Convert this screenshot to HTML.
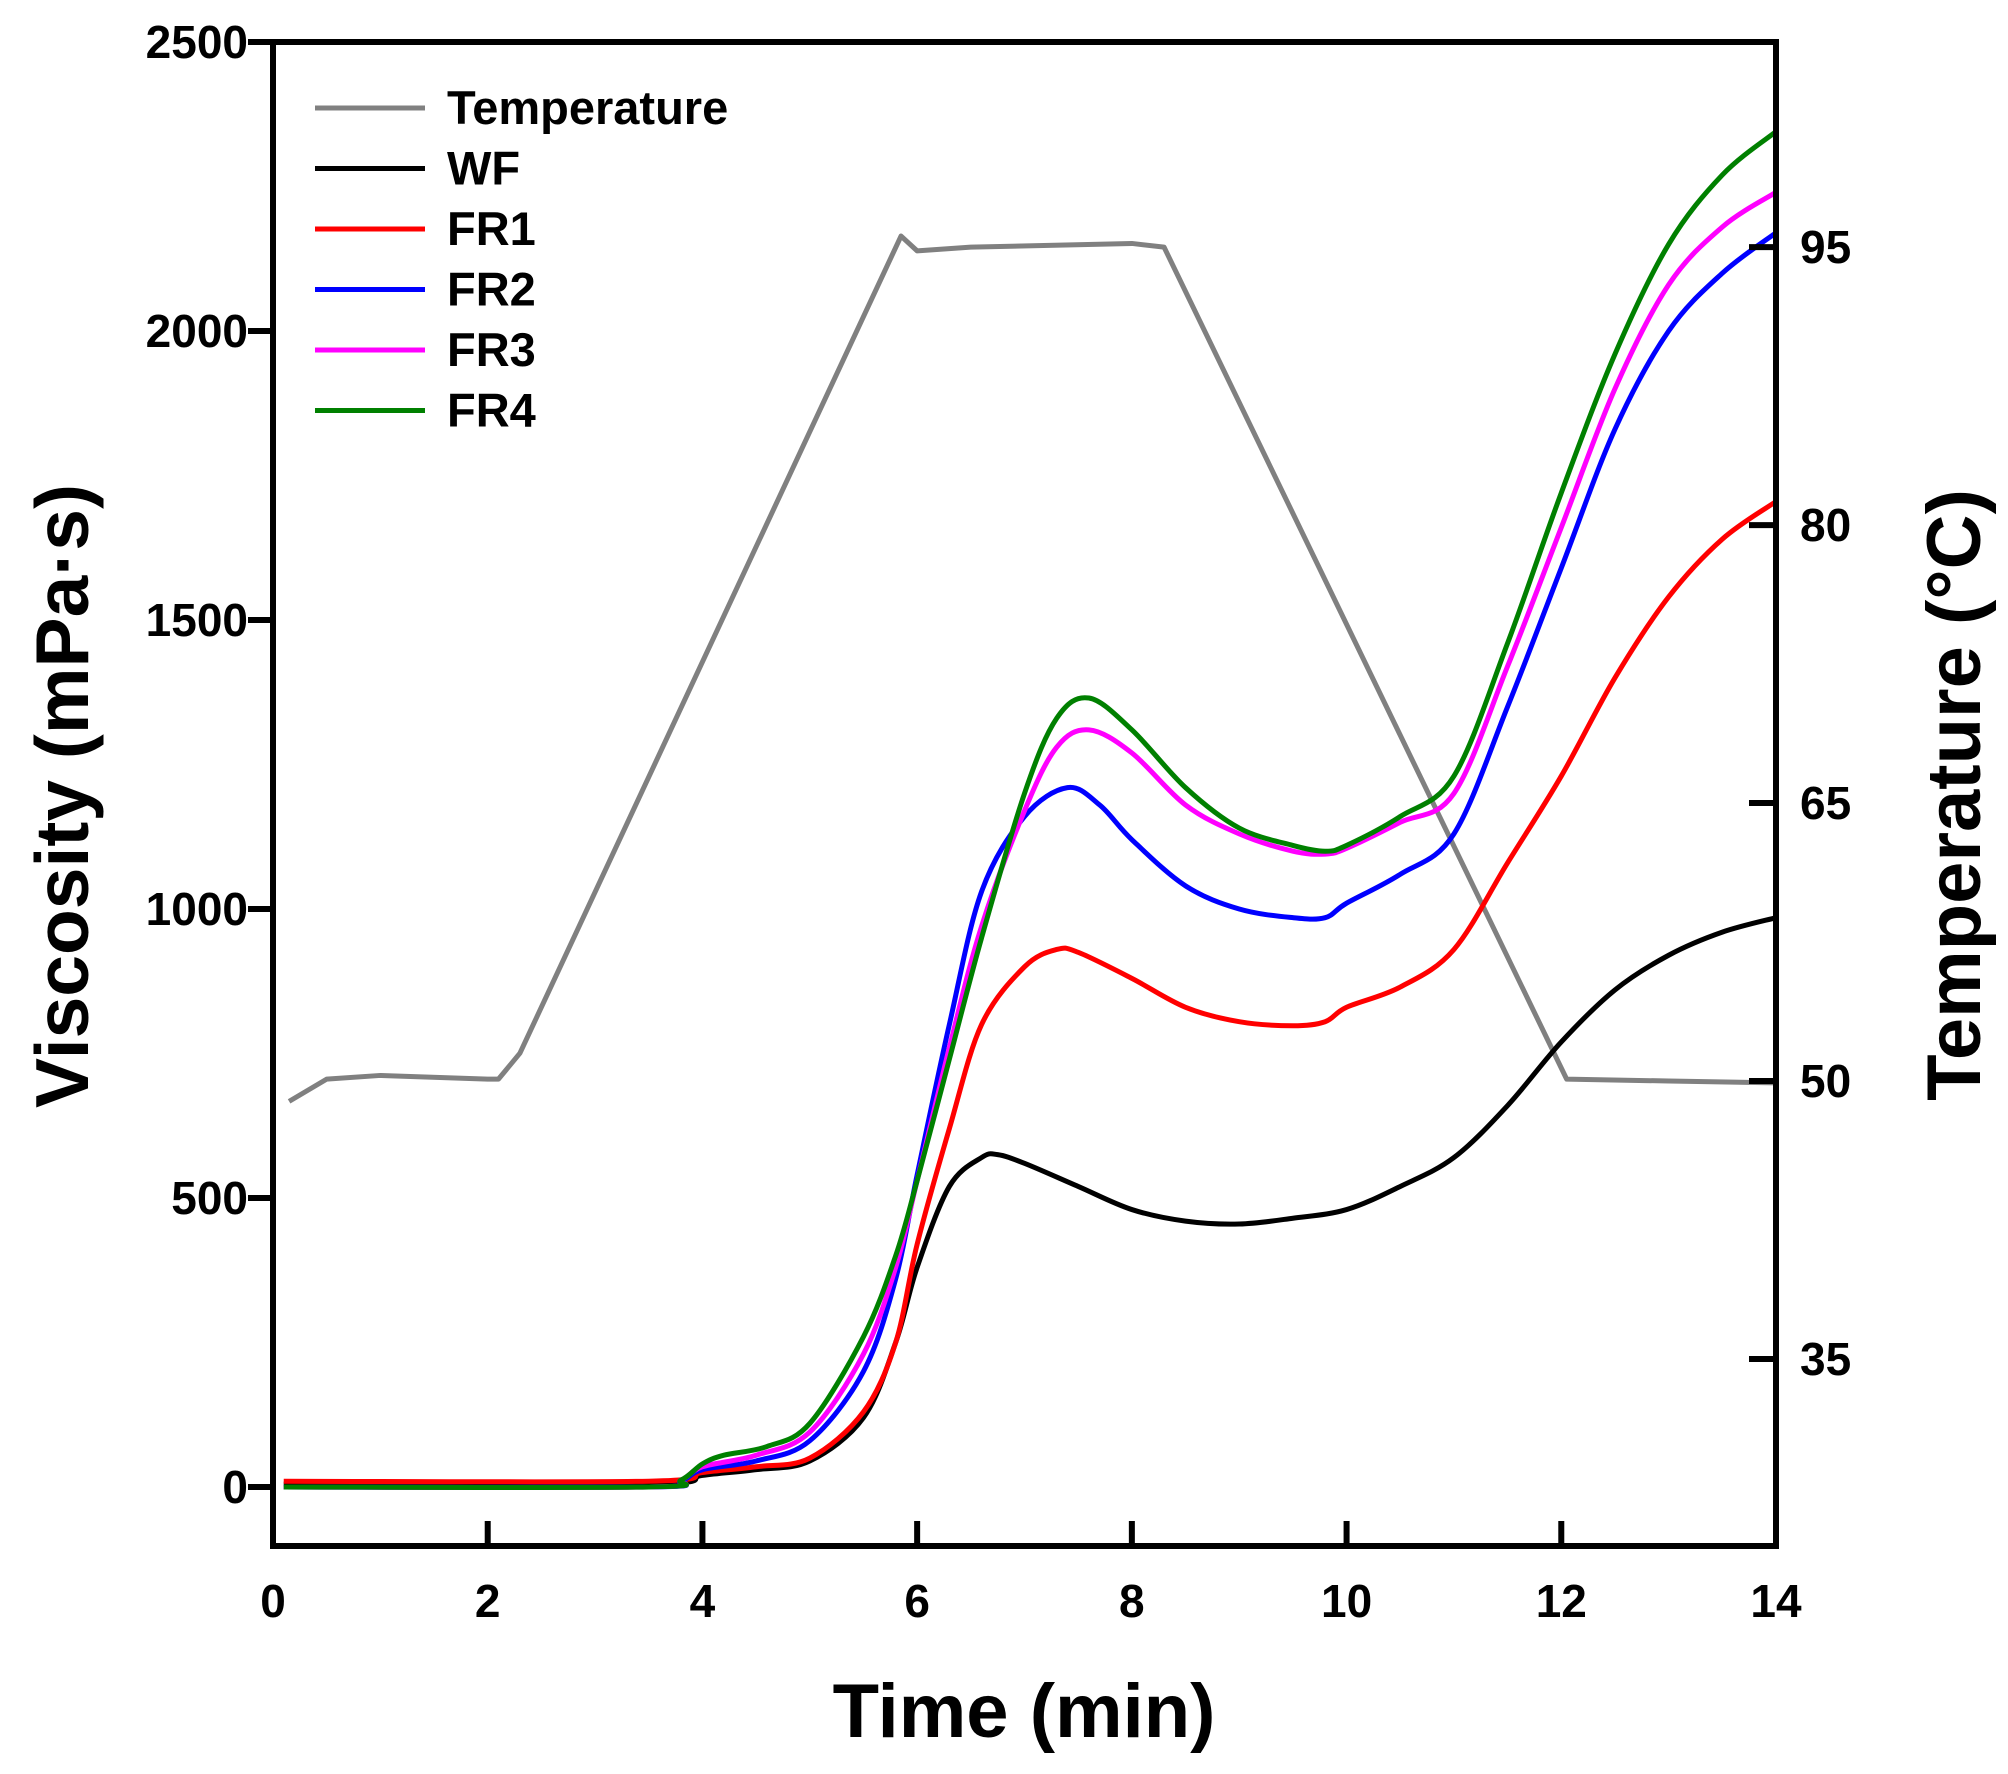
<!DOCTYPE html>
<html><head><meta charset="utf-8"><style>
html,body{margin:0;padding:0;background:#fff}
svg{display:block;font-family:"Liberation Sans",Arial,sans-serif;font-weight:bold}
</style></head><body>
<svg id="chart" width="2008" height="1774" viewBox="0 0 2008 1774" xmlns="http://www.w3.org/2000/svg"></svg>
<script>
const xTicks=[0,2,4,6,8,10,12,14];
const yTicks=[0,500,1000,1500,2000,2500];
const tTicks=[35,50,65,80,95];
const tempX=[0.15,0.5,1,2,2.1,2.3,5.85,6.0,6.5,8,8.3,12.05,13,14];
const tempY=[48.9,50.1,50.3,50.1,50.1,51.5,95.6,94.8,95.0,95.2,95.0,50.1,50.0,49.9];
const wfX=[0.1,3.5,4,4.5,5,5.5,5.8,6,6.3,6.6,6.75,7,7.5,8,8.5,9,9.5,10,10.5,11,11.5,12,12.5,13,13.5,14];
const wfY=[5,5,20,30,45,120,250,380,520,570,575,560,520,480,460,455,465,480,520,570,660,770,860,920,960,985];
const fr1X=[0.1,3.5,4,4.5,5,5.5,5.8,6,6.3,6.6,7,7.3,7.5,8,8.5,9,9.5,9.8,10,10.5,11,11.5,12,12.5,13,13.5,14];
const fr1Y=[10,10,25,35,50,130,250,420,620,800,900,930,925,880,830,805,798,805,830,865,930,1080,1230,1400,1540,1640,1705];
const fr2X=[0.1,3.5,3.8,4,4.5,5,5.5,5.8,6,6.3,6.6,7,7.4,7.7,8,8.5,9,9.5,9.8,10,10.5,11,11.5,12,12.5,13,13.5,14];
const fr2Y=[0,0,10,30,45,80,200,360,540,800,1030,1160,1210,1180,1120,1040,1000,985,985,1010,1060,1130,1350,1590,1830,2000,2100,2170];
const fr3X=[0.1,3.5,3.8,4,4.5,5,5.5,5.8,6,6.3,6.6,7,7.3,7.6,8,8.5,9,9.5,9.8,10,10.5,11,11.5,12,12.5,13,13.5,14];
const fr3Y=[0,0,12,35,55,95,230,380,530,760,970,1170,1280,1310,1270,1180,1130,1100,1095,1105,1150,1200,1420,1660,1900,2080,2180,2240];
const fr4X=[0.1,3.5,3.8,4,4.2,4.6,5,5.5,5.8,6,6.3,6.6,7,7.3,7.6,8,8.5,9,9.5,9.8,10,10.5,11,11.5,12,12.5,13,13.5,14];
const fr4Y=[0,0,12,40,55,70,110,260,400,530,740,950,1200,1330,1365,1310,1210,1140,1110,1100,1110,1160,1230,1460,1720,1960,2150,2270,2345];

const L=273,R=1776,T=42,B=1546;
const sx=v=>L+v*(R-L)/14;
const sy=v=>1487-v*1445/2500;
const st=t=>1081-(t-50)*18.53;
const svg=document.getElementById('chart');
const NS='http://www.w3.org/2000/svg';
function mk(tag,attrs,parent){const e=document.createElementNS(NS,tag);for(const k in attrs)e.setAttribute(k,attrs[k]);(parent||svg).appendChild(e);return e;}
function smooth(px,py){let d='M'+px[0]+','+py[0];for(let i=0;i<px.length-1;i++){const x0=px[i-1]??px[i],y0=py[i-1]??py[i],x3=px[i+2]??px[i+1],y3=py[i+2]??py[i+1];const c1x=px[i]+(px[i+1]-x0)/6,c1y=py[i]+(py[i+1]-y0)/6,c2x=px[i+1]-(x3-px[i])/6,c2y=py[i+1]-(y3-py[i])/6;d+=` C${c1x},${c1y} ${c2x},${c2y} ${px[i+1]},${py[i+1]}`;}return d;}

const series=[
 ['temperature-line','#808080',tempX.map(sx),tempY.map(st),false],
 ['wf-line','#000',wfX.map(sx),wfY.map(sy),true],
 ['fr1-line','#ff0000',fr1X.map(sx),fr1Y.map(sy),true],
 ['fr2-line','#0000ff',fr2X.map(sx),fr2Y.map(sy),true],
 ['fr3-line','#ff00ff',fr3X.map(sx),fr3Y.map(sy),true],
 ['fr4-line','#008000',fr4X.map(sx),fr4Y.map(sy),true]];
for(const s of series){
 let d;
 if(s[4]) d=smooth(s[2],s[3]); else d='M'+s[2].map((x,i)=>x+','+s[3][i]).join(' L');
 const p=mk('path',{d:d,fill:'none',stroke:s[1],'stroke-width':5,'stroke-linejoin':'round'});
 
 
}

const fr=mk('rect',{x:L,y:T,width:R-L,height:B-T,fill:'none',stroke:'#000','stroke-width':6});



for(const v of xTicks){
 const t=mk('line',{x1:sx(v),x2:sx(v),y1:B,y2:B-25,stroke:'#000','stroke-width':6});
 
 
 const tx=mk('text',{x:sx(v),y:1617,'font-size':46,'text-anchor':'middle'});tx.textContent=v;
 
 
}
for(const v of yTicks){
 const t=mk('line',{x1:L,x2:L-25,y1:sy(v),y2:sy(v),stroke:'#000','stroke-width':6});
 
 
 const tx=mk('text',{x:248,y:sy(v)+16,'font-size':46,'text-anchor':'end'});tx.textContent=v;
 
 
}
for(const v of tTicks){
 const t=mk('line',{x1:R,x2:R-27,y1:st(v),y2:st(v),stroke:'#000','stroke-width':6});
 
 
 const tx=mk('text',{x:1800,y:st(v)+16,'font-size':46});tx.textContent=v;
 
 
}
let a=mk('text',{x:1024,y:1737,'font-size':76,'text-anchor':'middle'});a.textContent='Time (min)';


a=mk('text',{x:0,y:0,'font-size':75,'text-anchor':'middle',transform:'translate(88,796) rotate(-90)'});a.textContent='Viscosity (mPa·s)';


a=mk('text',{x:0,y:0,'font-size':76,'text-anchor':'middle',transform:'translate(1980,795) rotate(-90)'});a.textContent='Temperature (°C)';



const legNames=['Temperature','WF','FR1','FR2','FR3','FR4'];
legNames.forEach((n,i)=>{
 const y=108+i*60.5;
 const ln=mk('line',{x1:315,x2:425,y1:y,y2:y,stroke:series[i][1],'stroke-width':5});
 
 
 const t=mk('text',{x:447,y:y+16,'font-size':47});t.textContent=n;
 
 
});
</script>
</body></html>
